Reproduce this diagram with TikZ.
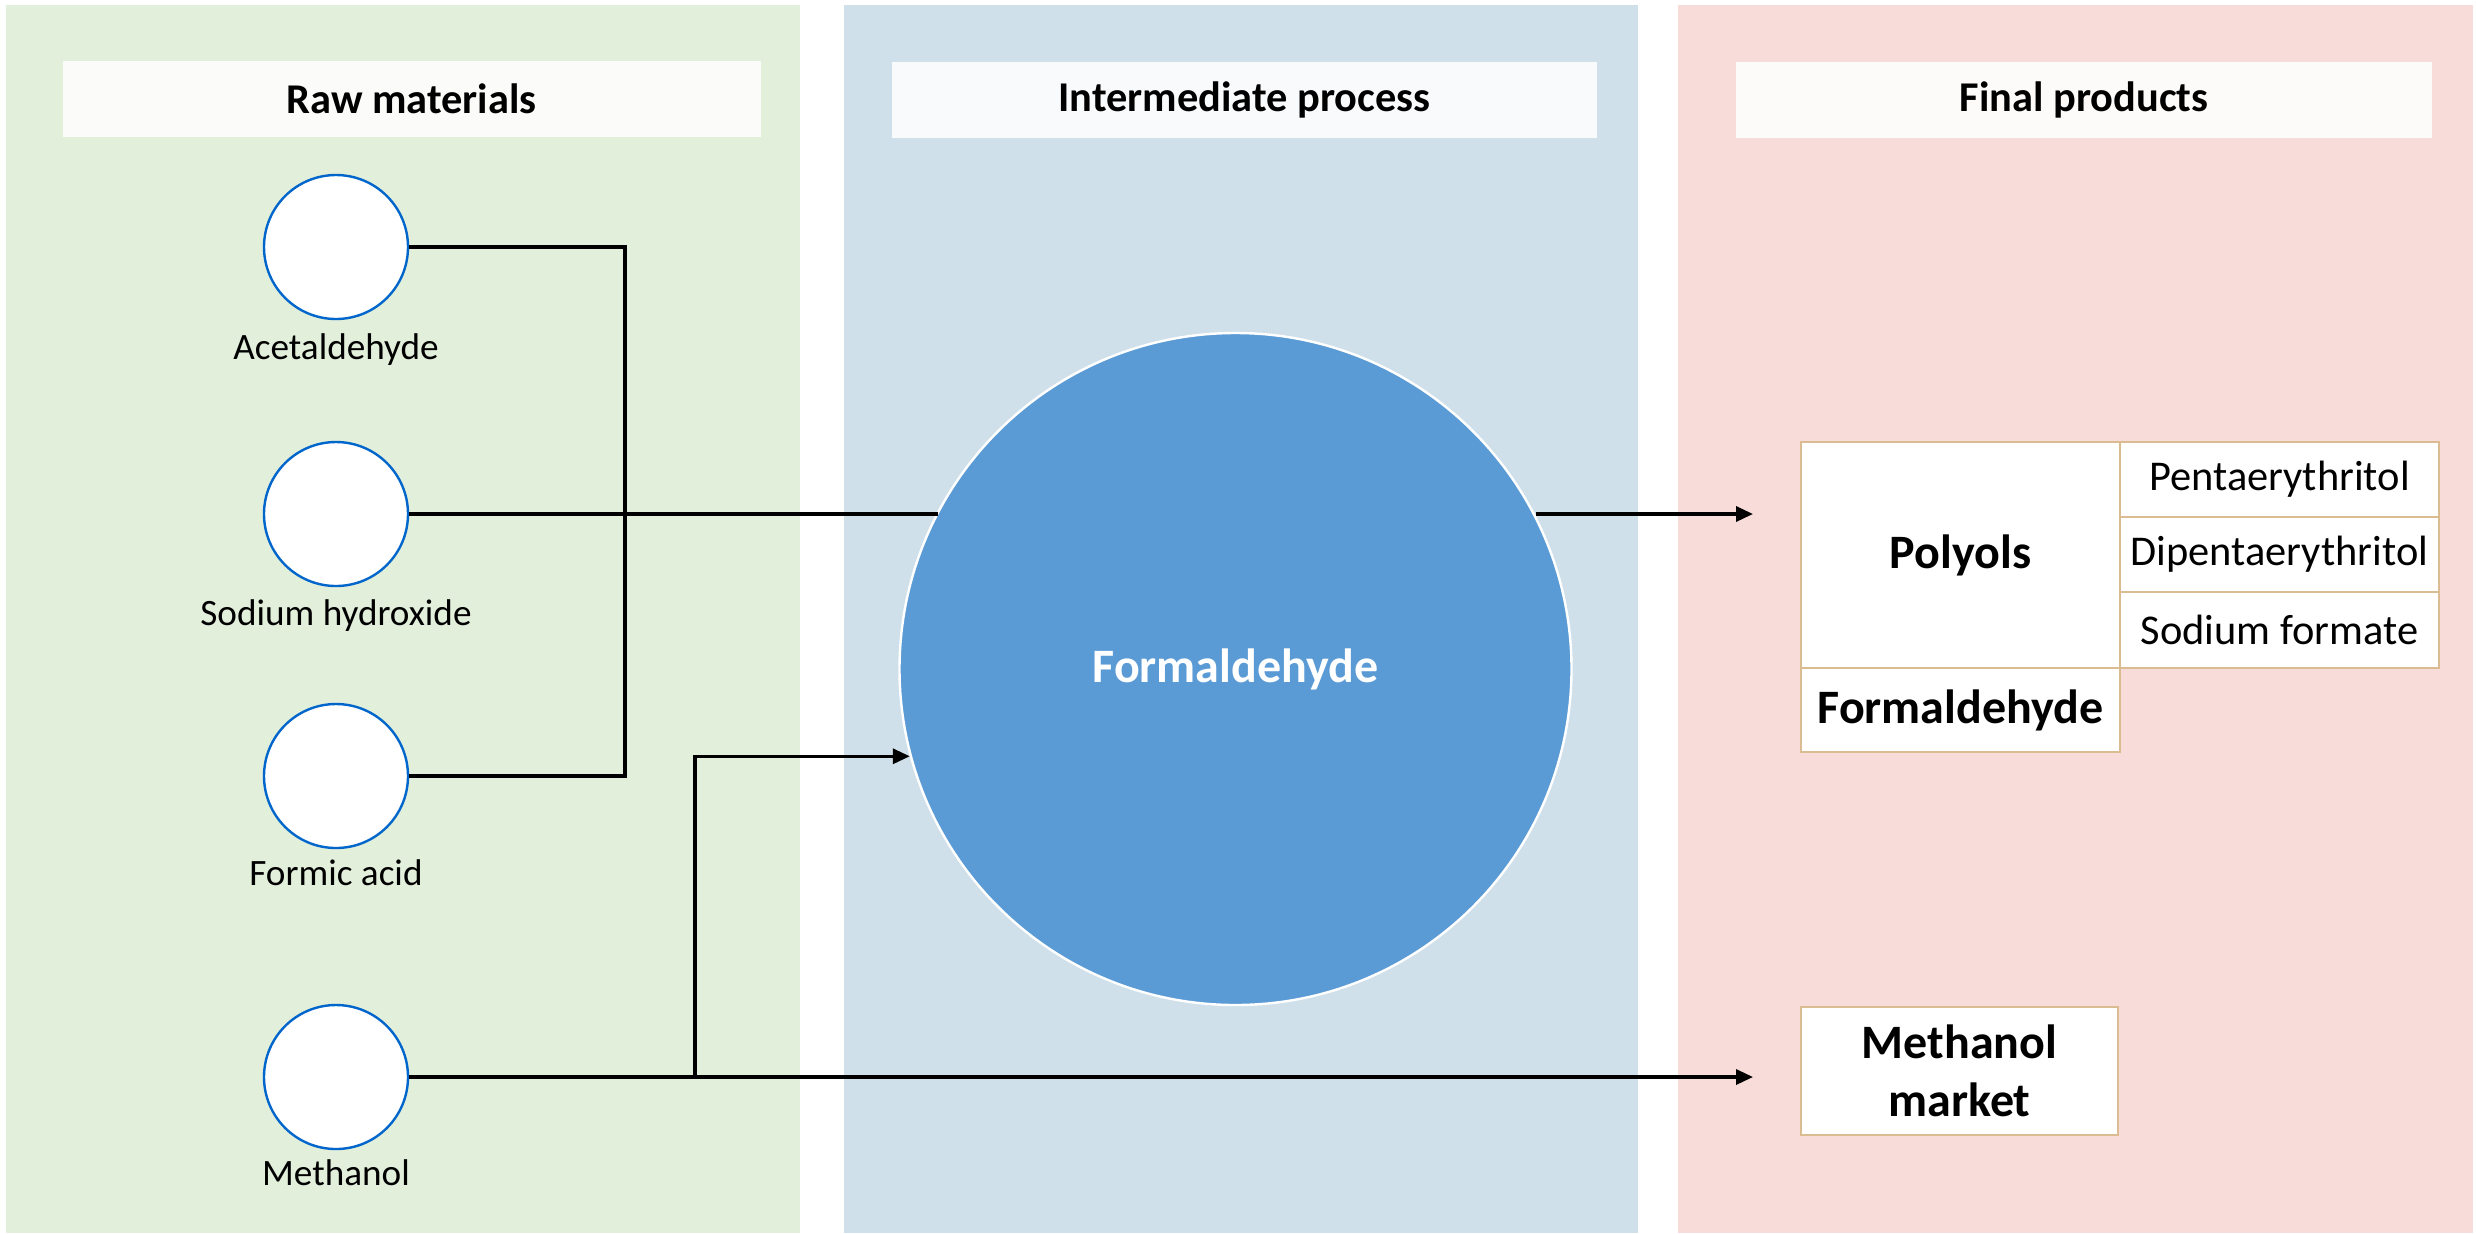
\documentclass[tikz,border=0pt]{standalone}
\usepackage{fontspec}
\setmainfont{Carlito}
\usetikzlibrary{arrows.meta,calc}
\definecolor{pgreen}{HTML}{E2EFDA}
\definecolor{pblue}{HTML}{D0E0EA}
\definecolor{pred}{HTML}{F7DCD9}
\definecolor{hgreen}{HTML}{FBFCF9}
\definecolor{hblue}{HTML}{F8FAFC}
\definecolor{hred}{HTML}{FCFBFA}
\definecolor{cblue}{HTML}{0066CC}
\definecolor{bigblue}{HTML}{5B9BD5}
\definecolor{tan}{HTML}{DABC90}
\tikzset{
  panel/.style={fill=#1, draw=none},
  hdr/.style={fill=#1, draw=none, rectangle, minimum width=349pt, minimum height=38pt, inner sep=0pt,
     font=\fontsize{21.2}{25}\selectfont\bfseries},
  raw/.style={circle, draw=cblue, fill=white, line width=1.2pt, minimum size=72pt, inner sep=0pt},
  lbl/.style={inner sep=0pt, font=\fontsize{18.6}{22}\selectfont},
  big/.style={circle, fill=bigblue, draw=white, line width=1.2pt, minimum size=336pt, inner sep=0pt,
     text=white, font=\fontsize{24}{28}\selectfont\bfseries},
  prod/.style={rectangle, draw=tan, fill=white, line width=1pt, inner sep=0pt, minimum width=159.5pt},
  ln/.style={draw=black, line width=1.65pt, line join=miter},
  arr/.style={ln, -{Triangle[length=8.5pt,width=7.5pt]}},
}
\begin{document}
\begin{tikzpicture}[x=0.5pt,y=-0.5pt]
\useasboundingbox (0,0) rectangle (2476,1233);
\fill[white] (0,0) rectangle (2476,1233);
% panels
\fill[panel=pgreen] (6,5) rectangle (800,1233);
\fill[panel=pblue] (844,5) rectangle (1638,1233);
\fill[panel=pred] (1678,5) rectangle (2473,1233);
% headers
\node[hdr=hgreen] (h1) at (411.5,99) {Raw materials};
\node[hdr=hblue, minimum width=352.5pt] (h2) at (1244.5,100) {Intermediate process};
\node[hdr=hred, minimum width=348pt] (h3) at (2084,100) {Final products};
% raw material circles
\node[raw] (acet) at (336,247) {};
\node[raw] (sod) at (336,514) {};
\node[raw] (formic) at (336,776) {};
\node[raw] (meth) at (336,1077) {};
\node[lbl] (acetL) at (336,350) {Acetaldehyde};
\node[lbl] (sodL) at (336,616) {Sodium hydroxide};
\node[lbl] (formicL) at (336,873) {Formic acid};
\node[lbl] (methL) at (336,1173) {Methanol};
% big circle
\node[big] (F) at (1235.5,669) {Formaldehyde};
% products
\node[prod, minimum height=113pt, font=\fontsize{24}{28}\selectfont\bfseries] (poly) at (1960.5,555) {Polyols};
\node[prod, minimum height=42pt, font=\fontsize{24}{28}\selectfont\bfseries] (fbox) at (1960.5,710) {Formaldehyde};
\node[prod, minimum height=37.5pt, font=\fontsize{21.2}{25}\selectfont] (pent) at (2279.5,479.5) {Pentaerythritol};
\node[prod, minimum height=37.5pt, font=\fontsize{21.2}{25}\selectfont] (dipent) at (2279.5,554.5) {Dipentaerythritol};
\node[prod, minimum height=38pt, font=\fontsize{21.2}{25}\selectfont] (sodf) at (2279.5,630) {Sodium formate};
\node[prod, minimum width=158.5pt, minimum height=64pt, align=center,
      font=\fontsize{24}{29}\selectfont\bfseries] (mm) at (1959.5,1071) {Methanol\\market};
% connectors
\coordinate (vx) at (625,500);
\coordinate (pa) at (1753,514);
\coordinate (ma) at (1753,1077);
\coordinate (jb) at (695,1077);
\draw[ln] (acet.east) -| (vx) |- (formic.east);
\draw[ln] (sod.east) -- (sod.east -| F.152.2);
\draw[arr] (sod.east -| F.27.8) -- (pa);
\draw[arr] (meth.east) -- (ma);
\draw[arr] (jb) |- (F.195.4);
\end{tikzpicture}
\end{document}
